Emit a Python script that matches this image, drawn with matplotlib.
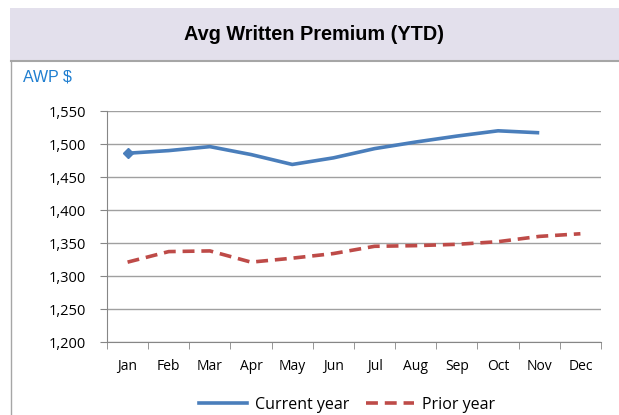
import matplotlib
matplotlib.use("Agg")
import matplotlib.pyplot as plt
from matplotlib.patches import Rectangle
from matplotlib.lines import Line2D

months = ["Jan", "Feb", "Mar", "Apr", "May", "Jun", "Jul", "Aug", "Sep", "Oct", "Nov", "Dec"]
current_year = [1486, 1490, 1496, 1484, 1469, 1479, 1493, 1503, 1512, 1520, 1517]
prior_year = [1321, 1337, 1338, 1321, 1327, 1334, 1345, 1346, 1348, 1352, 1360, 1364]
y_ticks = [1200, 1250, 1300, 1350, 1400, 1450, 1500, 1550]

W, H = 619, 415
fig = plt.figure(figsize=(W / 100, H / 100), dpi=100)
fig.patch.set_facecolor("white")

BLUE = "#4A7EBB"
RED = "#BE4B48"

# title band
fig.patches.append(Rectangle((10 / W, 1 - 60 / H), (W - 10) / W, 52 / H,
                             transform=fig.transFigure, facecolor="#E3E0EC",
                             edgecolor="none", zorder=0))
# chart box border
fig.lines.append(Line2D([11 / W, 1], [1 - 61 / H, 1 - 61 / H], transform=fig.transFigure,
                        color="#A6A6A6", lw=1.5))
fig.lines.append(Line2D([11 / W, 11 / W], [0, 1 - 61 / H], transform=fig.transFigure,
                        color="#A6A6A6", lw=1.0))

fig.text((10 + W) / 2 / W, 1 - 35 / H, "Avg Written Premium (YTD)", ha="center", va="center",
         fontsize=14.3, fontweight="bold", family="Liberation Sans", color="black")
fig.text(23 / W, 1 - 77 / H, "AWP $", ha="left", va="center", fontsize=11.5,
         family="Liberation Sans", color="#1F7ED0")

ax = fig.add_axes([107 / W, 1 - 342 / H, (601 - 107) / W, (342 - 111) / H])
x = list(range(len(months)))
ax.plot(x[:len(current_year)], current_year, color=BLUE, lw=2.6,
        marker="D", markevery=[0], markersize=5.5, solid_capstyle="butt")
ax.plot(x, prior_year, color=RED, lw=2.6, linestyle=(0, (3.3, 1.9)))

ax.set_xlim(-0.5, 11.5)
ax.set_ylim(1200, 1550)
ax.set_yticks(y_ticks)
ax.set_yticklabels([f"{v:,}" for v in y_ticks], family="Open Sans", fontsize=10.5)
ax.set_xticks(x)
ax.set_xticklabels(months, family="Open Sans", fontsize=10)
ax.set_xticks([i - 0.5 for i in range(13)], minor=True)
ax.tick_params(axis="x", which="major", length=0, pad=12)
ax.tick_params(axis="x", which="minor", length=5, color="#868686")
ax.tick_params(axis="y", length=5, color="#868686", pad=10)
ax.grid(axis="y", color="#A0A0A0", lw=1)
ax.set_axisbelow(True)
for s in ["top", "right"]:
    ax.spines[s].set_visible(False)
for s in ["left", "bottom"]:
    ax.spines[s].set_color("#868686")

handles = [Line2D([], [], color=BLUE, lw=2.6),
           Line2D([], [], color=RED, lw=2.6, linestyle=(0, (3.3, 1.9)))]
fig.legend(handles, ["Current year", "Prior year"], loc="center",
           bbox_to_anchor=(347 / W, 1 - 405 / H), ncol=2, frameon=False,
           prop={"family": "Open Sans", "size": 11.5}, handlelength=3.0, columnspacing=1.0,
           handletextpad=0.5)

fig.savefig("out.png", dpi=100)
